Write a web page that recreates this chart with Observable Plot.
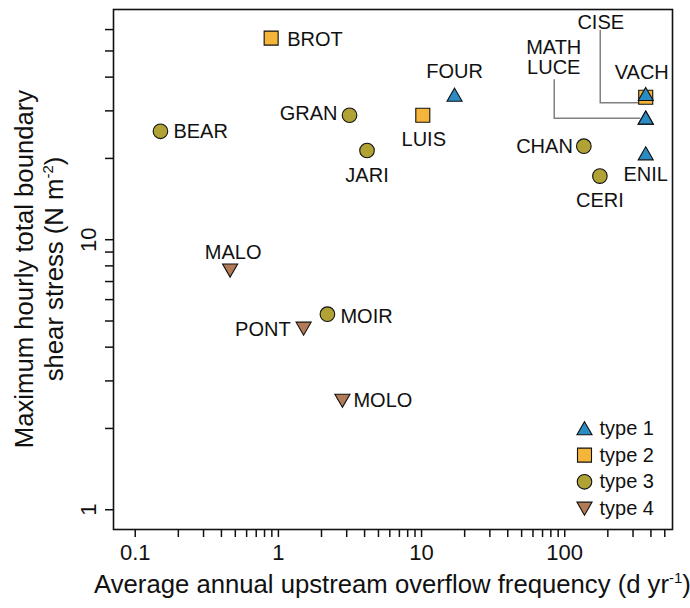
<!DOCTYPE html>
<html>
<head>
<meta charset="utf-8">
<script src="https://cdn.jsdelivr.net/npm/d3@7"></script>
<script src="https://cdn.jsdelivr.net/npm/@observablehq/plot@0.6"></script>
<style>
  body { margin: 0; background: #fff; }
  #chart svg { font-family: "Liberation Sans", Arial, sans-serif; }
</style>
</head>
<body>
<div id="chart"></div>
<script>
// ---- data ----
const sites       = ["BEAR", "BROT", "MALO", "PONT", "MOIR", "MOLO", "GRAN", "JARI", "LUIS", "FOUR", "CHAN", "CERI", "ENIL", "CISE", "VACH", "MATH", "LUCE"];
const frequency   = [0.15,   0.89,   0.46,   1.50,   2.2,    2.8,    3.14,   4.16,   10.2,   17.0,   136,    176,    368,    368,    368,    368,    368];
const shearStress = [25.2,   55.8,   7.83,   4.77,   5.3,    2.58,   28.9,   21.4,   28.9,   33.8,   22.2,   17.2,   20.5,   33.7,   34.0,   27.8,   27.8];
const siteType    = [3,      2,      4,      4,      3,      4,      3,      3,      2,      1,      3,      3,      1,      2,      1,      1,      1];

const legendTypes  = [1, 2, 3, 4];
const legendLabels = ["type 1", "type 2", "type 3", "type 4"];

const xTicks = [0.1, 0.2, 0.3, 0.4, 0.5, 0.6, 0.7, 0.8, 0.9, 1, 2, 3, 4, 5, 6, 7, 8, 9, 10, 20, 30, 40, 50, 60, 70, 80, 90, 100, 200, 300, 400, 500];
const xTickLabels = {0.1: "0.1", 1: "1", 10: "10", 100: "100"};
const yTicks = [1, 2, 3, 4, 5, 6, 7, 8, 9, 10, 20, 30, 40, 50, 60];
const yTickLabels = {1: "1", 10: "10"};

// ---- styling ----
const typeStyle = {
  1: {symbol: "triangle", fill: "#2b8cc4", r: 5.6, rotate: 0},
  2: {symbol: "square",   fill: "#f5b43a", r: 7.9, rotate: 0},
  3: {symbol: "circle",   fill: "#b1a236", r: 7.3, rotate: 0},
  4: {symbol: "triangle", fill: "#b27a57", r: 5.6, rotate: 180}
};
const drawOrder = [3, 4, 2, 1];
// label offsets (dx, dy, anchor) relative to each point
const labelStyle = {
  BEAR: [13, 0, "start"],  BROT: [16, 2, "start"],  MOIR: [13, 2, "start"], MOLO: [11, 2, "start"],
  GRAN: [-12, -2, "end"],  CHAN: [-11, 0, "end"],   PONT: [-13, 3, "end"],
  FOUR: [0, -25, "middle"], VACH: [-4, -24, "middle"], MALO: [3, -16, "middle"],
  LUIS: [1, 24, "middle"], JARI: [0, 25, "middle"], CERI: [0, 24, "middle"], ENIL: [0, 19, "middle"],
  CISE: [-45, -75, "middle"]
};
const groupedLabel = {text: "MATH\nLUCE", site: "MATH", dx: -92, dy: -62};
const leaderSpecs = [
  {site: "CISE", path: [[-45, -67], [-45, 6], [-6, 6]]},
  {site: "MATH", path: [[-91, -40], [-91, -1], [-5, -1]]}
];

const W = 690, H = 608;
const M = {left: 113, right: 18, top: 9, bottom: 79};

const rows = sites.map((s, i) => ({site: s, frequency: frequency[i], stress: shearStress[i], type: siteType[i]}));

function leaders(index, scales) {
  const g = d3.create("svg:g").attr("fill", "none").attr("stroke", "#808080").attr("stroke-width", 1.5);
  for (const L of leaderSpecs) {
    const i = sites.indexOf(L.site);
    const px = scales.x(frequency[i]), py = scales.y(shearStress[i]);
    g.append("path").attr("d", L.path.map((p, k) => (k ? "L" : "M") + (px + p[0]) + "," + (py + p[1])).join(""));
  }
  return g.node();
}

const marks = [
  Plot.axisX({ticks: xTicks, tickSize: 8, tickPadding: 7, tickFormat: d => xTickLabels[d] ?? "", fontSize: 22, label: null, strokeWidth: 1.5}),
  Plot.axisY({ticks: yTicks, tickSize: 8, tickPadding: 10, tickRotate: -90, tickFormat: d => yTickLabels[d] ?? "", fontSize: 22, label: null, strokeWidth: 1.5}),
  leaders
];
for (const t of drawOrder) {
  const s = typeStyle[t];
  marks.push(Plot.dot(rows.filter(d => d.type === t), {
    x: "frequency", y: "stress", symbol: s.symbol, r: s.r, rotate: s.rotate,
    fill: s.fill, stroke: "#111", strokeWidth: 1.1
  }));
}
for (const name of Object.keys(labelStyle)) {
  const [dx, dy, anchor] = labelStyle[name];
  marks.push(Plot.text(rows.filter(d => d.site === name), {
    x: "frequency", y: "stress", text: "site", dx, dy, textAnchor: anchor, fontSize: 20, fill: "#111"
  }));
}
marks.push(Plot.text(rows.filter(d => d.site === groupedLabel.site), {
  x: "frequency", y: "stress", text: () => groupedLabel.text, dx: groupedLabel.dx, dy: groupedLabel.dy,
  lineHeight: 1.0, fontSize: 20, fill: "#111"
}));
// legend (inside the frame, bottom-right)
legendTypes.forEach((t, k) => {
  const s = typeStyle[t];
  const dy = -21 - (legendTypes.length - 1 - k) * 26.7;
  const ddy = t === 1 ? 2 : t === 4 ? -2 : 0;
  marks.push(Plot.dot([t], {frameAnchor: "bottom-right", dx: -88, dy: dy + ddy, symbol: s.symbol, r: s.r, rotate: s.rotate, fill: s.fill, stroke: "#111", strokeWidth: 1.1}));
  marks.push(Plot.text([legendLabels[k]], {frameAnchor: "bottom-right", dx: -73, dy, text: d => d, textAnchor: "start", lineAnchor: "middle", fontSize: 20, fill: "#111"}));
});
marks.push(Plot.frame({stroke: "#111", strokeWidth: 1.6}));

const chart = Plot.plot({
  width: W, height: H,
  marginLeft: M.left, marginRight: M.right, marginTop: M.top, marginBottom: M.bottom,
  x: {type: "log", domain: [0.0705, 566]},
  y: {type: "log", domain: [0.845, 71.2]},
  style: {fontFamily: "'Liberation Sans', Arial, sans-serif", color: "#111", background: "#fff"},
  marks
});
document.getElementById("chart").appendChild(chart);

// axis titles with superscripts
const svg = d3.select(chart);
const cx = M.left + (W - M.left - M.right) / 2;
const cy = M.top + (H - M.top - M.bottom) / 2;
const xt = svg.append("text").attr("x", cx).attr("y", 593).attr("text-anchor", "middle")
  .attr("font-size", 25.7).attr("fill", "#111");
xt.append("tspan").text("Average annual upstream overflow frequency (d yr");
xt.append("tspan").attr("font-size", 15).attr("dy", -10).text("-1");
xt.append("tspan").attr("dy", 10).text(")");

const yt = svg.append("g").attr("transform", `translate(0,${cy}) rotate(-90)`)
  .attr("font-size", 25.7).attr("fill", "#111").attr("text-anchor", "middle");
yt.append("text").attr("x", 0).attr("y", 33).text("Maximum hourly total boundary");
const y2 = yt.append("text").attr("x", 0).attr("y", 63);
y2.append("tspan").text("shear stress (N m");
y2.append("tspan").attr("font-size", 15).attr("dy", -10).text("-2");
y2.append("tspan").attr("dy", 10).text(")");
</script>
</body>
</html>
